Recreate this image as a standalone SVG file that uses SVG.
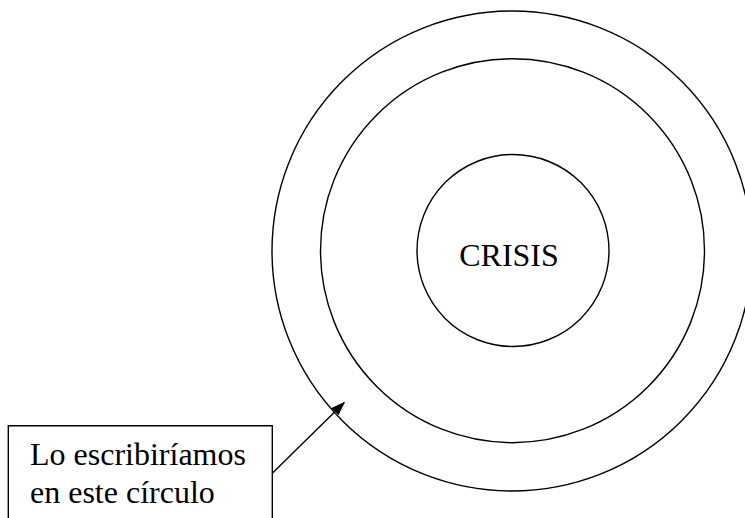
<svg xmlns="http://www.w3.org/2000/svg" width="745" height="518" viewBox="0 0 745 518">
<style>
.ring{fill:none;stroke:#000;stroke-width:1.4}
.lbl{font-family:"Liberation Serif","Times New Roman",serif;font-size:32px;fill:#000}
.conn{stroke:#000;stroke-width:1.4;fill:none}
</style>
<defs>
<marker id="ah" markerWidth="14" markerHeight="12" refX="13" refY="5" orient="auto" markerUnits="userSpaceOnUse">
<path d="M0,0 L14,5 L0,10 Z" fill="#000"/>
</marker>
</defs>
<rect width="745" height="518" fill="#fff"/>
<g id="outer"><circle class="ring" cx="512" cy="251" r="240"/></g>
<g id="middle"><circle class="ring" cx="512.5" cy="250.7" r="192"/></g>
<g id="inner"><circle class="ring" cx="513" cy="250.5" r="96"/>
<text class="lbl" x="509" y="265.5" text-anchor="middle">CRISIS</text></g>
<g id="note"><path class="ring" d="M8.3,518 V425.7 H272.3 V518"/>
<text class="lbl" x="30" y="465.3">Lo escribiríamos</text>
<text class="lbl" x="30" y="502.5">en este círculo</text></g>
<g id="connectors"><line class="conn" x1="272.3" y1="473.3" x2="344.3" y2="402.5" marker-end="url(#ah)"/></g>
</svg>
